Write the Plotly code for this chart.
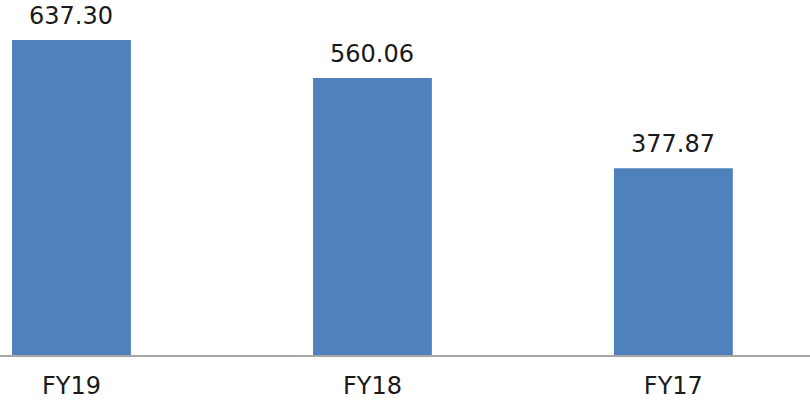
import plotly.graph_objects as go

years = ["FY19", "FY18", "FY17"]
values = [637.30, 560.06, 377.87]
labels = ["637.30", "560.06", "377.87"]

fig = go.Figure()
fig.add_trace(go.Bar(
    x=years, y=values,
    marker=dict(color="#4F81BD", line=dict(width=0)),
    hoverinfo="x+y",
))

# value labels sitting a bit above each bar
for yr, v, lab in zip(years, values, labels):
    fig.add_annotation(
        x=yr, y=v, text=lab, showarrow=False,
        yanchor="bottom", yshift=8,
        font=dict(size=24, color="#1a1a1a"),
    )

fig.update_layout(
    width=810, height=408,
    margin=dict(l=0, r=0, t=0, b=53),
    paper_bgcolor="white", plot_bgcolor="white",
    font=dict(family="DejaVu Sans, sans-serif"),
    bargap=0.605, showlegend=False,
)
fig.update_xaxes(
    range=[-0.2375, 2.454],
    showline=True, linecolor="#a6a6a6", linewidth=2,
    showgrid=False, ticks="", ticklabelstandoff=8,
    tickfont=dict(size=24, color="#1a1a1a"),
)
fig.update_yaxes(range=[0, 718], visible=False)

fig.write_html("out.html", config={"displayModeBar": False},
               post_script="document.body.style.margin='0';")
